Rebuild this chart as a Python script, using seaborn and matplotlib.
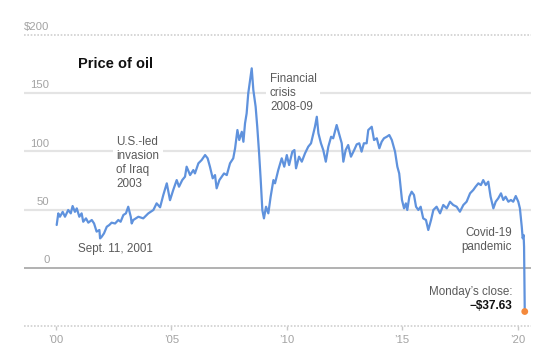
import matplotlib
matplotlib.use("Agg")
import matplotlib.pyplot as plt
import seaborn as sns
import pandas as pd

# ---- data ----
years = [2000.03, 2000.10, 2000.17, 2000.29, 2000.39, 2000.53, 2000.64, 2000.72, 2000.82, 2000.90,
         2001.01, 2001.11, 2001.18, 2001.30, 2001.40, 2001.55, 2001.65, 2001.76, 2001.88, 2001.91,
         2001.98, 2002.08, 2002.20, 2002.31, 2002.41, 2002.56, 2002.70, 2002.80, 2002.92, 2003.03,
         2003.13, 2003.24, 2003.28, 2003.35, 2003.57, 2003.78, 2004.00, 2004.22, 2004.36, 2004.51,
         2004.65, 2004.80, 2004.94, 2005.08, 2005.23, 2005.33, 2005.47, 2005.59, 2005.66, 2005.81,
         2005.95, 2006.02, 2006.17, 2006.31, 2006.46, 2006.57, 2006.67, 2006.79, 2006.89, 2006.96,
         2007.08, 2007.18, 2007.28, 2007.40, 2007.54, 2007.68, 2007.76, 2007.86, 2007.94, 2008.05,
         2008.12, 2008.19, 2008.26, 2008.33, 2008.41, 2008.48, 2008.55, 2008.65, 2008.72, 2008.80,
         2008.87, 2008.94, 2009.01, 2009.10, 2009.20, 2009.30, 2009.42, 2009.49, 2009.63, 2009.78,
         2009.89, 2010.00, 2010.10, 2010.24, 2010.33, 2010.40, 2010.53, 2010.65, 2010.79, 2010.93,
         2011.05, 2011.15, 2011.22, 2011.30, 2011.37, 2011.48, 2011.58, 2011.69, 2011.80, 2011.92,
         2012.01, 2012.16, 2012.26, 2012.38, 2012.45, 2012.55, 2012.66, 2012.78, 2012.92, 2013.03,
         2013.14, 2013.24, 2013.34, 2013.46, 2013.53, 2013.68, 2013.78, 2013.90, 2014.01, 2014.11,
         2014.21, 2014.33, 2014.44, 2014.55, 2014.69, 2014.79, 2014.87, 2014.94, 2014.99, 2015.08,
         2015.16, 2015.22, 2015.31, 2015.41, 2015.51, 2015.60, 2015.70, 2015.80, 2015.91, 2016.03,
         2016.13, 2016.25, 2016.35, 2016.49, 2016.64, 2016.78, 2016.93, 2017.07, 2017.21, 2017.36,
         2017.50, 2017.65, 2017.79, 2017.94, 2018.08, 2018.18, 2018.30, 2018.41, 2018.51, 2018.62,
         2018.73, 2018.83, 2018.95, 2019.05, 2019.16, 2019.28, 2019.38, 2019.48, 2019.60, 2019.71,
         2019.81, 2019.92, 2020.03, 2020.10, 2020.18, 2020.22, 2020.26, 2020.28, 2020.31]
prices = [36.7, 46.7, 43.8, 48.0, 43.8, 49.6, 46.7, 53.0, 48.0, 51.0,
          43.8, 46.7, 39.5, 42.4, 38.7, 41.0, 38.0, 31.0, 32.4, 25.2,
          26.6, 29.5, 35.2, 36.7, 38.7, 38.0, 41.0, 39.5, 45.3, 46.7,
          52.4, 43.8, 38.0, 41.0, 43.8, 42.4, 46.7, 49.6, 55.3, 51.9,
          62.5, 72.5, 58.0, 66.8, 75.3, 69.6, 75.3, 78.2, 86.8, 79.6,
          83.9, 81.0, 89.7, 92.5, 96.8, 94.0, 86.8, 76.8, 79.6, 68.2,
          75.3, 78.2, 81.0, 79.6, 89.7, 94.0, 102.6, 118.3, 109.7, 116.8,
          108.2, 124.0, 132.6, 149.8, 161.3, 171.3, 152.7, 138.3, 121.1, 98.3,
          75.3, 49.6, 42.4, 52.4, 46.7, 61.0, 75.3, 72.5, 83.9, 94.0,
          86.8, 96.8, 88.2, 99.7, 101.1, 85.4, 95.4, 91.1, 98.3, 104.0,
          106.9, 115.5, 121.1, 129.7, 115.5, 106.9, 101.1, 91.1, 104.0, 112.5,
          111.2, 122.6, 115.5, 106.9, 91.1, 101.1, 105.4, 95.4, 101.1, 106.0,
          106.9, 99.7, 106.9, 106.9, 118.3, 121.1, 109.7, 111.2, 102.6, 108.2,
          111.2, 112.5, 114.0, 109.7, 99.7, 86.8, 81.0, 68.2, 58.2, 51.0,
          55.3, 49.6, 61.0, 65.3, 62.5, 52.4, 49.6, 52.4, 42.4, 41.0,
          32.4, 41.0, 49.6, 52.4, 46.7, 53.9, 51.0, 56.7, 53.9, 52.4,
          48.1, 53.9, 56.7, 63.9, 66.8, 69.6, 72.5, 71.0, 75.3, 71.0,
          73.9, 61.0, 51.0, 56.7, 59.6, 63.9, 58.2, 61.0, 56.7, 58.2,
          56.7, 61.6, 56.7, 51.0, 35.2, 25.3, 28.1, 18.0, -37.63]
y_ticks = [0, 50, 100, 150, 200]
y_tick_labels = ["0", "50", "100", "150", "$200"]
x_ticks = [2000, 2005, 2010, 2015, 2020]
x_tick_labels = ["’00", "’05", "’10", "’15", "’20"]

df = pd.DataFrame({"year": years, "price": prices})

# ---- style ----
sns.set_style("white")
plt.rcParams["font.family"] = ["Liberation Sans", "DejaVu Sans"]

fig = plt.figure(figsize=(5.54, 3.62), dpi=100)
ax = fig.add_axes([0, 0, 1, 1])

x0, x1 = 1998.613, 2020.60
grid_col = "#e4e4e4"
# gridlines
for v in [50, 100, 150]:
    ax.hlines(v, x0, x1, color=grid_col, lw=1.6, zorder=1)
ax.hlines(200, x0, x1, color="#d0d0d0", lw=1.2, linestyles=(0, (1, 1)), zorder=1)
ax.hlines(-50, x0, x1, color="#d0d0d0", lw=1.2, linestyles=(0, (1, 1)), zorder=1)
ax.hlines(0, x0, x1, color="#ababab", lw=1.3, zorder=2)

# y labels
for v, lab in zip(y_ticks, y_tick_labels):
    ax.text(1999.72, v + 6.6, lab, ha="right", va="center", fontsize=8.2, color="#a3a3a3")

# x ticks + labels
for t, lab in zip(x_ticks, x_tick_labels):
    ax.vlines(t, -53.5, -50, color="#c8c8c8", lw=1.0, zorder=1)
    ax.text(t, -62.1, lab, ha="center", va="center", fontsize=8.2, color="#a3a3a3")

# line
sns.lineplot(data=df, x="year", y="price", ax=ax, color="#5f92dd", lw=1.6, zorder=4)
sns.scatterplot(x=[years[-1]], y=[prices[-1]], ax=ax, color="#f4893b", s=24,
                edgecolor="none", zorder=5)
ax.set_xlim(1997.574, 2021.577)
ax.set_ylim(-81.0, 230.0)
ax.axis("off")

# annotations
txt_col = "#5a5a5a"
ls = 1.22
ax.text(2000.95, 174.6, "Price of oil", ha="left", va="center", fontsize=10.5,
        fontweight="bold", color="#111111")
bb = dict(facecolor="white", edgecolor="none", pad=2.5)
ax.text(2009.27, 150.5, "Financial\ncrisis\n2008-09", ha="left", va="center", fontsize=8.4,
        color=txt_col, linespacing=ls, bbox=bb, zorder=3)
ax.text(2002.60, 90.0, "U.S.-led\ninvasion\nof Iraq\n2003", ha="left", va="center", fontsize=8.4,
        color=txt_col, linespacing=ls, bbox=bb, zorder=3)
ax.text(2000.95, 16.1, "Sept. 11, 2001", ha="left", va="center", fontsize=8.4, color=txt_col)
ax.text(2019.76, 23.4, "Covid-19\npandemic", ha="right", va="center", fontsize=8.4,
        color=txt_col, linespacing=ls, multialignment="right")
ax.text(2019.76, -21.1, "Monday’s close:", ha="right", va="center", fontsize=8.4, color=txt_col)
ax.text(2019.76, -32.6, "−$37.63", ha="right", va="center", fontsize=8.6,
        fontweight="bold", color="#111111")

fig.savefig("out.png", dpi=100)
